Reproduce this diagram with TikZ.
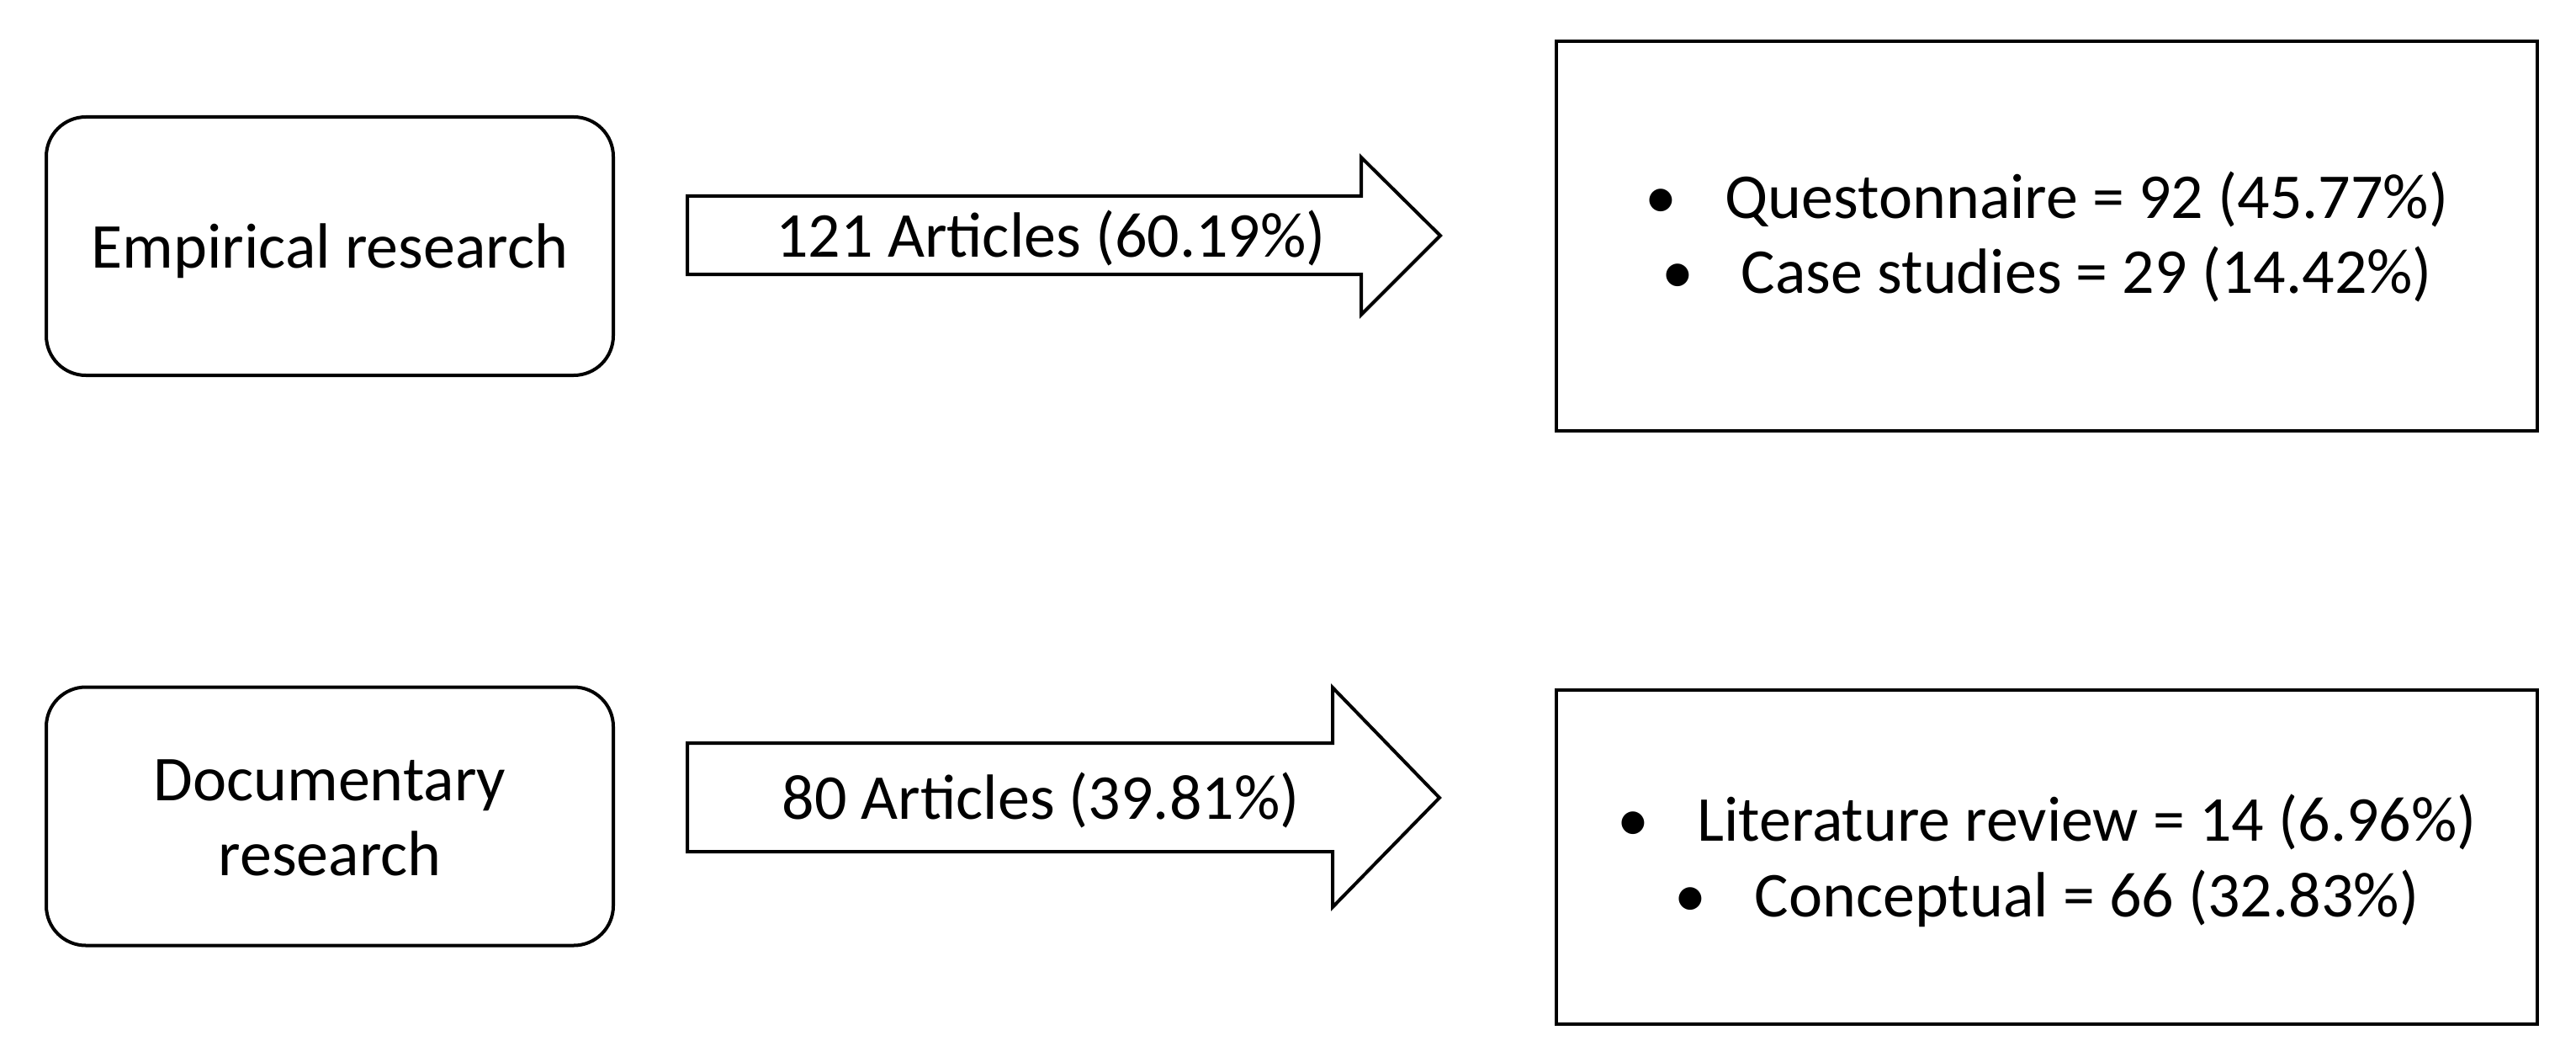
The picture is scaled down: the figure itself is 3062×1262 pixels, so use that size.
\documentclass[tikz,border=0pt]{standalone}
\usepackage{fontspec}
\setmainfont{Carlito}
\newcommand{\bul}{\makebox[23.75pt][l]{\textbullet}}
\begin{document}
\begin{tikzpicture}[x=0.25pt,y=-0.25pt,
  every node/.style={font=\fontsize{19}{22.4}\selectfont, text=black},
  catbox/.style={draw=black, line width=1pt, rounded corners=11.75pt, inner sep=0pt,
    minimum width=168.5pt, minimum height=76.75pt, align=center, fill=white},
  resbox/.style={draw=black, line width=1pt, inner sep=0pt,
    minimum width=291.5pt, align=center, fill=white},
  blockarrow/.style={draw=black, line width=1pt, fill=white, line join=miter},
  arrowlabel/.style={anchor=base, inner sep=0pt}
]
\useasboundingbox (0,0) rectangle (3062,1262);
\fill[white] (0,0) rectangle (3062,1262);

% left category boxes
\node[catbox, text height=13.25pt, text depth=0pt] (emp) at (392,292.5) {Empirical research};
\node[catbox, text height=35.3pt, text depth=0pt] (doc) at (392,970) {Documentary\\research};

% right result boxes
\node[resbox, minimum height=115.75pt, text height=34.25pt, text depth=0pt] (empres) at (2433,280.5)
  {\bul Questonnaire = 92 (45.77\%)\\
   \bul Case studies = 29 (14.42\%)};
\node[resbox, minimum height=99.25pt, text height=35.25pt, text depth=0pt] (docres) at (2433,1018.5)
  {\bul Literature review = 14 (6.96\%)\\
   \bul Conceptual = 66 (32.83\%)};

% block arrows
\draw[blockarrow] (817,233) -- (1618,233) -- (1618,187) -- (1712,280)
  -- (1618,374) -- (1618,326) -- (817,326) -- cycle;
\node[arrowlabel] (lab1) at (1249,306) {121 Articles (60.19\%)};

\draw[blockarrow] (817,883) -- (1584,883) -- (1584,817) -- (1711,948)
  -- (1584,1078) -- (1584,1012) -- (817,1012) -- cycle;
\node[arrowlabel] (lab2) at (1237,973) {80 Articles (39.81\%)};
\end{tikzpicture}
\end{document}
